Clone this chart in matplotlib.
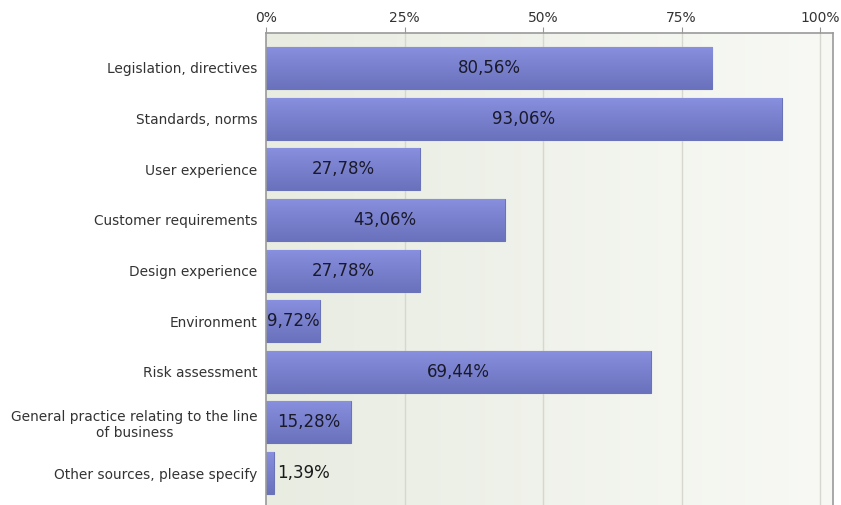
import numpy as np
import matplotlib.pyplot as plt
from matplotlib.colors import LinearSegmentedColormap

# survey answers, percent of respondents
categories = [
    "Legislation, directives",
    "Standards, norms",
    "User experience",
    "Customer requirements",
    "Design experience",
    "Environment",
    "Risk assessment",
    "General practice relating to the line\nof business",
    "Other sources, please specify",
]
shares = [80.56, 93.06, 27.78, 43.06, 27.78, 9.72, 69.44, 15.28, 1.39]
tick_values = [0, 25, 50, 75, 100]
tick_labels = ["0%", "25%", "50%", "75%", "100%"]

plt.rcParams["font.family"] = ["DejaVu Sans"]

fig = plt.figure(figsize=(8.41, 5.05), dpi=100)
ax = fig.add_axes([266 / 841, 0.0, (833 - 266) / 841, 1 - 33 / 505])

xmax = (833 - 266) / (820 - 266) * 100
ax.set_xlim(0, xmax)
ax.set_ylim(len(categories) - 1 + 0.63, -0.69)

# background: soft horizontal gradient
bg_cmap = LinearSegmentedColormap.from_list("bg", ["#e8ece1", "#f8f9f5"])
ax.imshow(np.linspace(0, 1, 256).reshape(1, -1), cmap=bg_cmap, aspect="auto",
          extent=[0, 1, 0, 1], transform=ax.transAxes, zorder=0)

for t in tick_values[1:]:
    ax.axvline(t, color="#d6d8d0", lw=1.0, zorder=1)

bar_cmap = LinearSegmentedColormap.from_list("bar", ["#8890df", "#6a72bd"])
grad = np.linspace(0, 1, 64).reshape(-1, 1)
h = 0.83
ypos = np.arange(len(categories))
bars = ax.barh(ypos, shares, height=h, color="#7a82cf", edgecolor="#6a72b8",
               linewidth=0.8, zorder=2)
for bar, y, v in zip(bars, ypos, shares):
    im = ax.imshow(grad, cmap=bar_cmap, aspect="auto",
                   extent=[0, v, y + h / 2, y - h / 2], zorder=2.5)
    im.set_clip_path(bar)
    lbl = f"{v:.2f}%".replace(".", ",")
    if v < 5:
        ax.text(v + 0.6, y, lbl, ha="left", va="center", fontsize=12,
                color="#1a1a1a", zorder=4)
    else:
        ax.text(v / 2, y, lbl, ha="center", va="center", fontsize=12,
                color="#1a1a2a", zorder=4)

ax.set_yticks(ypos)
ax.set_yticklabels(categories, fontsize=9.9, color="#333333",
                   multialignment="center")
ax.tick_params(axis="y", length=0, pad=6)

ax.xaxis.tick_top()
ax.set_xticks(tick_values)
ax.set_xticklabels(tick_labels, fontsize=10, color="#333333")
ax.tick_params(axis="x", length=4, color="#999999", pad=2)

for side in ["top", "left", "right"]:
    ax.spines[side].set_color("#9a9a9a")
    ax.spines[side].set_linewidth(1.2)
ax.spines["bottom"].set_visible(False)

fig.savefig("out.png", dpi=100)
